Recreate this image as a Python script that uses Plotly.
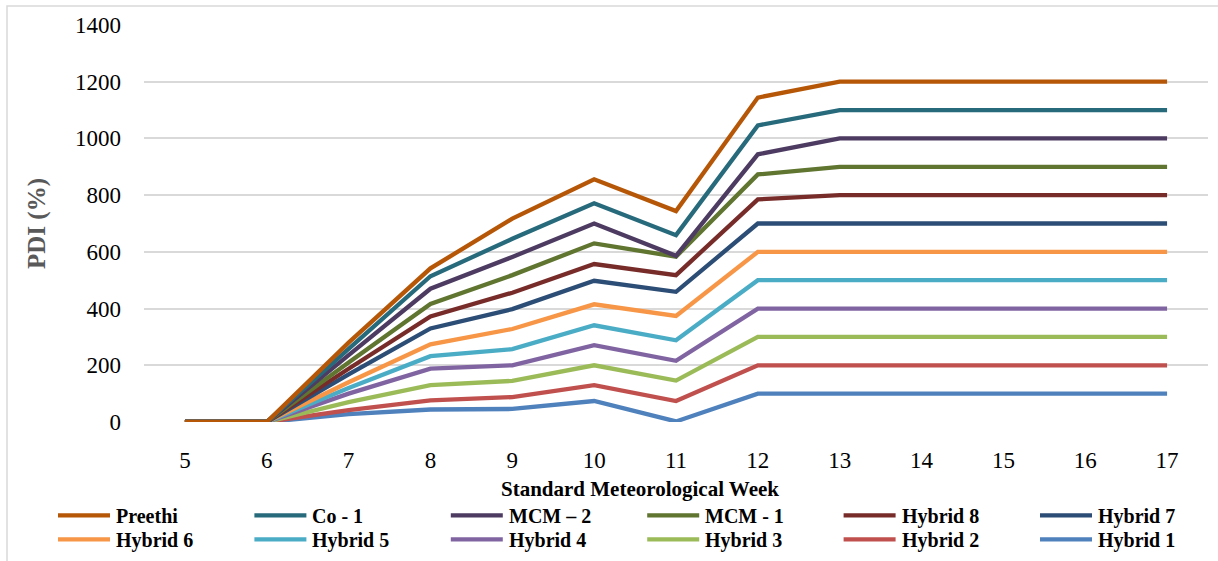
import plotly.graph_objects as go

weeks = ["5", "6", "7", "8", "9", "10", "11", "12", "13", "14", "15", "16", "17"]

series_names = ["Hybrid 1", "Hybrid 2", "Hybrid 3", "Hybrid 4", "Hybrid 5", "Hybrid 6",
                "Hybrid 7", "Hybrid 8", "MCM - 1", "MCM – 2", "Co - 1", "Preethi"]

hybrid_1 = [0, 0, 28, 44, 46, 74, 2, 100, 100, 100, 100, 100, 100]
hybrid_2 = [0, 0, 42, 76, 88, 130, 74, 200, 200, 200, 200, 200, 200]
hybrid_3 = [0, 0, 70, 130, 145, 200, 146, 300, 300, 300, 300, 300, 300]
hybrid_4 = [0, 0, 100, 188, 200, 271, 216, 400, 400, 400, 400, 400, 400]
hybrid_5 = [0, 0, 120, 232, 257, 341, 288, 500, 500, 500, 500, 500, 500]
hybrid_6 = [0, 0, 140, 274, 328, 415, 374, 600, 600, 600, 600, 600, 600]
hybrid_7 = [0, 0, 168, 330, 398, 498, 459, 700, 700, 700, 700, 700, 700]
hybrid_8 = [0, 0, 188, 372, 456, 557, 518, 785, 800, 800, 800, 800, 800]
mcm_1 = [0, 0, 210, 416, 518, 630, 583, 873, 900, 900, 900, 900, 900]
mcm_2 = [0, 0, 236, 470, 582, 700, 586, 944, 1000, 1000, 1000, 1000, 1000]
co_1 = [0, 0, 258, 514, 646, 771, 659, 1046, 1100, 1100, 1100, 1100, 1100]
preethi = [0, 0, 280, 542, 717, 856, 744, 1144, 1200, 1200, 1200, 1200, 1200]

series_values = [hybrid_1, hybrid_2, hybrid_3, hybrid_4, hybrid_5, hybrid_6,
                 hybrid_7, hybrid_8, mcm_1, mcm_2, co_1, preethi]

colors = ["#4F81BD", "#C0504D", "#9BBB59", "#8064A2", "#4BACC6", "#F79646",
          "#2C4D75", "#772C2A", "#5F7530", "#4D3B62", "#276A7C", "#B65708"]

y_ticks = [0, 200, 400, 600, 800, 1000, 1200, 1400]

FONT = "Liberation Serif, Times New Roman, serif"

# plot area geometry (pixels)
W, H = 1218, 561
PL, PR, PT, PB = 144, 1208, 25, 421.7


def px_x(px):
    return (px - PL) / (PR - PL)


def px_y(py):
    return (PB - py) / (PB - PT)


fig = go.Figure()
for name, vals, col in zip(series_names, series_values, colors):
    fig.add_trace(go.Scatter(x=weeks, y=vals, name=name, mode="lines",
                             line=dict(color=col, width=4.3), showlegend=False))

# legend drawn as swatches + text (6 columns x 2 rows, Excel-like order)
shapes = [dict(type="rect", xref="paper", yref="paper",
               x0=px_x(7), x1=1.02, y0=-0.4, y1=px_y(6),
               line=dict(color="#D9D9D9", width=1.5), fillcolor="rgba(0,0,0,0)", layer="below")]
annotations = [dict(text="Standard Meteorological Week", xref="paper", yref="paper",
                    x=px_x(640), y=px_y(489), xanchor="center", yanchor="middle",
                    showarrow=False,
                    font=dict(family=FONT, size=21, color="black", weight="bold"))]

legend_order = list(range(len(series_names)))[::-1]
col_x0, col_step, line_len = 58, 196.4, 52
row_ys = [515, 539]
for k, idx in enumerate(legend_order):
    r, c = divmod(k, 6)
    x0 = col_x0 + c * col_step
    y = row_ys[r]
    shapes.append(dict(type="line", xref="paper", yref="paper",
                       x0=px_x(x0), x1=px_x(x0 + line_len), y0=px_y(y), y1=px_y(y),
                       line=dict(color=colors[idx], width=4.3)))
    annotations.append(dict(text=series_names[idx], xref="paper", yref="paper",
                            x=px_x(x0 + line_len + 4), y=px_y(y + 1),
                            xanchor="left", yanchor="middle", showarrow=False,
                            font=dict(family=FONT, size=20, color="black", weight="bold")))

fig.update_layout(
    width=W, height=H,
    margin=dict(l=PL, r=W - PR, t=PT, b=H - PB),
    paper_bgcolor="white", plot_bgcolor="white",
    font=dict(family=FONT, size=23, color="black"),
    showlegend=False,
    xaxis=dict(type="category", range=[-0.5, 12.5], showgrid=False,
               showline=False, zeroline=False, ticks="",
               ticklabelstandoff=22,
               tickfont=dict(family=FONT, size=23, color="black")),
    yaxis=dict(range=[0, 1400], tickvals=y_ticks, showgrid=True,
               gridcolor="#D9D9D9", gridwidth=1.5, zeroline=False,
               showline=False, ticks="", ticklabelstandoff=22,
               tickfont=dict(family=FONT, size=23, color="black"),
               title=dict(text="PDI (%)", standoff=22,
                          font=dict(family=FONT, size=25, color="#595959", weight="bold"))),
    annotations=annotations,
    shapes=shapes,
)

fig.write_html("out.html", config={"displayModeBar": False},
               post_script="document.body.style.margin='0';")
